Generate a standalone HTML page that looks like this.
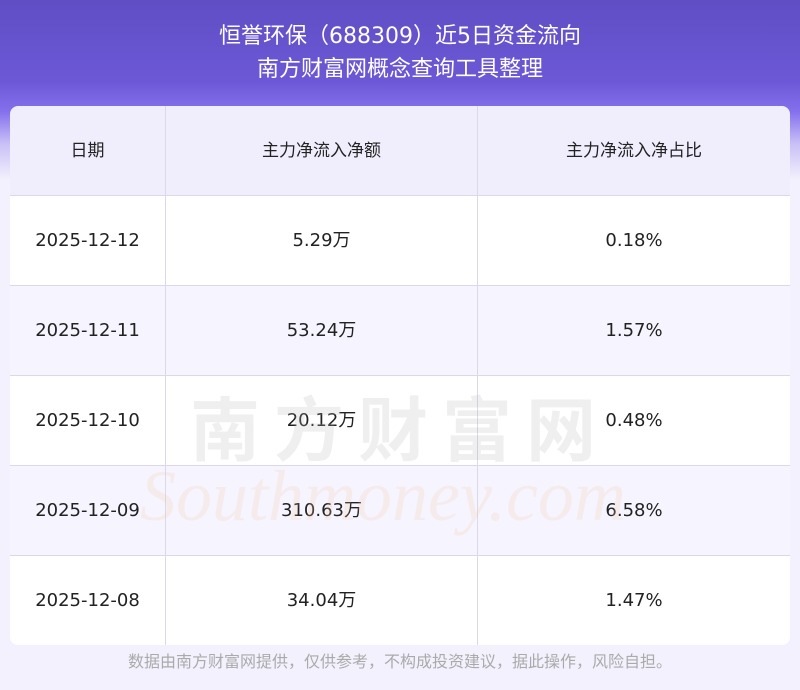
<!DOCTYPE html>
<html><head><meta charset="utf-8"><style>
body{margin:0;width:800px;height:690px;overflow:hidden;font-family:"DejaVu Sans","Noto Sans CJK SC",sans-serif;background:#f3f1fd;position:relative}
.top{position:absolute;left:0;top:0;width:800px;height:180px;background:linear-gradient(180deg,#5f4ec4 0%,#6c58d6 45%,#8570ec 62%,#c9c0f6 80%,#f3f1fd 100%)}
.t{position:absolute;left:0;width:800px;text-align:center;color:#fff;font-size:22px;line-height:30px}
table{position:absolute;left:10px;top:106px;width:780px;border-collapse:collapse;border-radius:8px;overflow:hidden;font-size:18px;color:#222}
td{height:89px;border:1px solid #dcd8ea;text-align:center;padding:0;line-height:20px}
tr:first-child td{background:#f0eefc;font-size:17px;border-top:none}
tr:nth-child(even) td{background:#fff}
tr:nth-child(odd):not(:first-child) td{background:#f6f4fe}
td:first-child{border-left:none}td:last-child{border-right:none}
tr:last-child td{border-bottom:none}
.wm{position:absolute;left:190px;top:375px;font-size:70px;color:rgba(180,180,180,.22);letter-spacing:14px;font-weight:bold}
.wm2{position:absolute;left:140px;top:455px;font-size:72px;font-family:"Liberation Serif",serif;font-style:italic;color:rgba(250,200,160,.2)}
.f{position:absolute;top:652px;left:0;width:800px;text-align:center;color:#aaa;font-size:16px;line-height:20px}
</style></head><body>
<div class="top"></div>
<div class="t" style="top:22px">恒誉环保（688309）近5日资金流向</div>
<div class="t" style="top:55px">南方财富网概念查询工具整理</div>
<table>
<tr><td style="width:155px">日期</td><td style="width:311px">主力净流入净额</td><td>主力净流入净占比</td></tr>
<tr><td>2025-12-12</td><td>5.29万</td><td>0.18%</td></tr>
<tr><td>2025-12-11</td><td>53.24万</td><td>1.57%</td></tr>
<tr><td>2025-12-10</td><td>20.12万</td><td>0.48%</td></tr>
<tr><td>2025-12-09</td><td>310.63万</td><td>6.58%</td></tr>
<tr><td>2025-12-08</td><td>34.04万</td><td>1.47%</td></tr>
</table>
<div class="wm">南方财富网</div>
<div class="wm2">Southmoney.com</div>
<div class="f">数据由南方财富网提供，仅供参考，不构成投资建议，据此操作，风险自担。</div>
</body></html>
